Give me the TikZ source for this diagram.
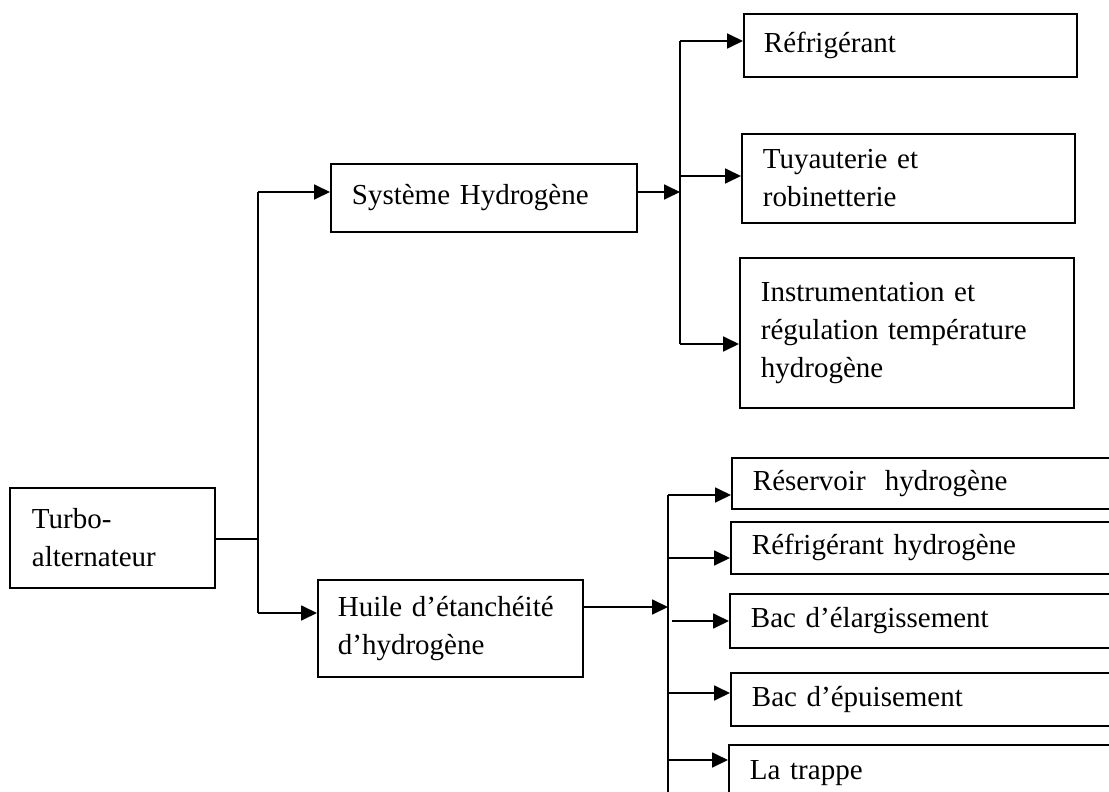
\documentclass[tikz,border=0pt]{standalone}
\usepackage{fontspec}
\setmainfont{Liberation Serif}
\usetikzlibrary{arrows.meta}
\tikzset{
  box/.style={draw, line width=1.8pt, anchor=north west, align=left, inner ysep=0pt,
    font=\fontsize{29}{38}\selectfont},
  line/.style={line width=1.8pt},
  arr/.style={line width=1.8pt, -{Triangle[length=16pt,width=15pt]}},
}
\begin{document}
\begin{tikzpicture}[x=1pt, y=-1pt]
  \useasboundingbox (0,0) rectangle (1109,792);
  \clip (0,0) rectangle (1109,792);
  % left part
  \node[box, minimum height=100pt, inner xsep=22pt, text width=161pt] (turbo) at (9,487) {Turbo-\\alternateur};
  \node[box, minimum height=68pt, inner xsep=21pt, text width=264pt] (sys) at (330,163) {Système Hydrogène};
  \node[box, minimum height=97pt, inner xsep=20pt, text width=225pt] (huile) at (317,579) {Huile d’étanchéité\\d’hydrogène};
  % upper branch
  \node[box, minimum height=63pt, inner xsep=20pt, text width=293pt] (refr) at (743,13) {Réfrigérant};
  \node[box, minimum height=89pt, inner xsep=21pt, text width=291pt] (tuyau) at (741,133) {Tuyauterie et\\robinetterie};
  \node[box, minimum height=150pt, inner xsep=21pt, text width=292pt] (instr) at (739,257) {Instrumentation et\\régulation température\\hydrogène};
  % lower branch
  \node[box, minimum height=51pt, inner xsep=21pt, text width=358pt] (res) at (731,457) {Réservoir\ \ hydrogène};
  \node[box, minimum height=52pt, inner xsep=21pt, text width=358pt] (refh) at (730,521) {Réfrigérant hydrogène};
  \node[box, minimum height=54pt, inner xsep=21pt, text width=358pt] (bacel) at (729,593) {Bac d’élargissement};
  \node[box, minimum height=53pt, inner xsep=21pt, text width=358pt] (bacep) at (730,672) {Bac d’épuisement};
  \node[box, minimum height=56pt, inner xsep=21pt, text width=358pt] (trappe) at (728,744) {La trappe};

  % bus lines
  \coordinate (b1t) at (258,192);
  \coordinate (b1b) at (258,613);
  \coordinate (b2t) at (680,41);
  \coordinate (b2m) at (680,176);
  \coordinate (b2b) at (680,344);
  \coordinate (b3t) at (668,495);
  \coordinate (b3i) at (668,607);
  \coordinate (b3b) at (668,800);

  \draw[line] (turbo.east |- 0,539) -- (b1t |- 0,539);
  \draw[line] (b1t) -- (b1b);
  \draw[arr] (b1t) -- (b1t -| sys.west);
  \draw[arr] (b1b) -- (b1b -| huile.west);

  \draw[arr] (sys.east |- b1t) -- (b1t -| b2t);
  \draw[line] (b2t) -- (b2b);
  \draw[arr] (b2t) -- (b2t -| refr.west);
  \draw[arr] (b2m) -- (b2m -| tuyau.west);
  \draw[arr] (b2b) -- (b2b -| instr.west);

  \draw[arr] (huile.east |- b3i) -- (b3i);
  \draw[line] (b3t) -- (b3b);
  \foreach \y/\n in {495/res, 558/refh, 693/bacep, 760/trappe}
    \draw[arr] (668,\y) -- (\n.west |- 668,\y);
  \draw[arr] (672,621) -- (bacel.west |- 672,621);
\end{tikzpicture}
\end{document}
